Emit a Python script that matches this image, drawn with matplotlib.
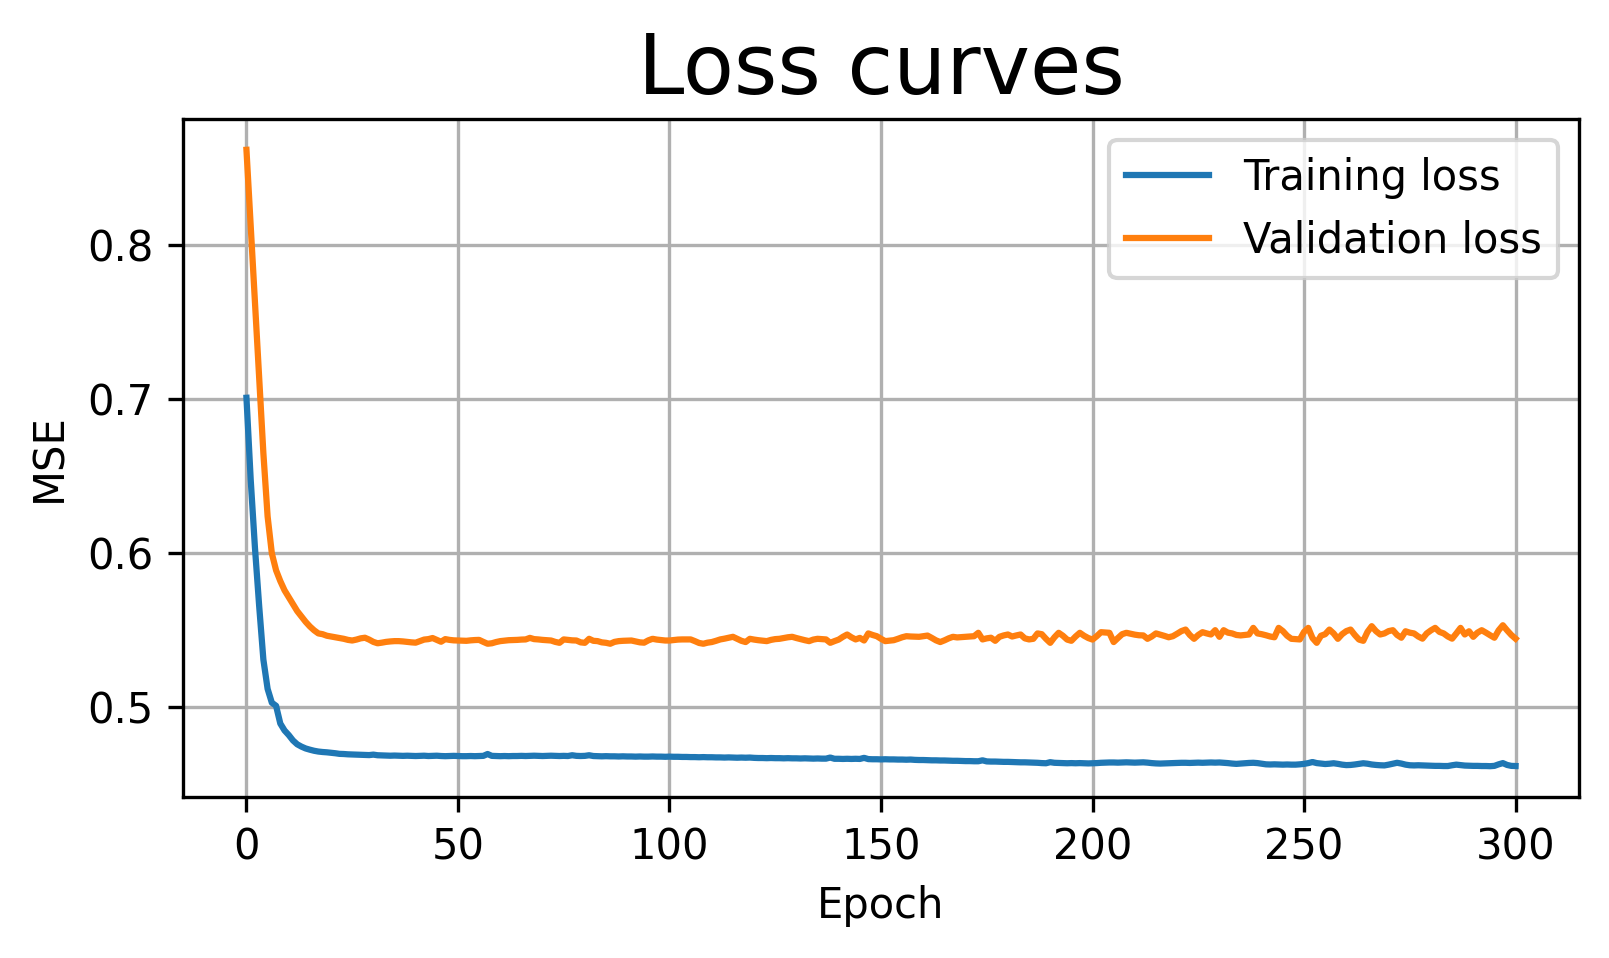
import numpy as np
import matplotlib
matplotlib.use("Agg")
import matplotlib.pyplot as plt

epochs = list(range(301))

training_loss = [
    0.7010, 0.6480, 0.6040, 0.5660, 0.5310, 0.5120, 0.5030, 0.5010, 0.4895, 0.4850,  # 0
    0.4820, 0.4785, 0.4760, 0.4745, 0.4733, 0.4725, 0.4718, 0.4713, 0.4710, 0.4708,  # 10
    0.4705, 0.4702, 0.4698, 0.4697, 0.4695, 0.4694, 0.4693, 0.4692, 0.4691, 0.4690,  # 20
    0.4693, 0.4689, 0.4688, 0.4687, 0.4686, 0.4687, 0.4686, 0.4685, 0.4686, 0.4685,  # 30
    0.4684, 0.4685, 0.4686, 0.4684, 0.4685, 0.4686, 0.4684, 0.4683, 0.4684, 0.4685,  # 40
    0.4684, 0.4683, 0.4683, 0.4684, 0.4683, 0.4684, 0.4685, 0.4697, 0.4685, 0.4684,  # 50
    0.4683, 0.4684, 0.4683, 0.4684, 0.4684, 0.4685, 0.4684, 0.4685, 0.4686, 0.4685,  # 60
    0.4684, 0.4685, 0.4686, 0.4685, 0.4684, 0.4685, 0.4684, 0.4689, 0.4685, 0.4684,  # 70
    0.4685, 0.4689, 0.4684, 0.4683, 0.4682, 0.4683, 0.4682, 0.4682, 0.4681, 0.4682,  # 80
    0.4681, 0.4681, 0.4680, 0.4681, 0.4680, 0.4680, 0.4681, 0.4680, 0.4680, 0.4679,  # 90
    0.4680, 0.4679, 0.4679, 0.4678, 0.4678, 0.4677, 0.4677, 0.4676, 0.4677, 0.4676,  # 100
    0.4676, 0.4675, 0.4675, 0.4674, 0.4675, 0.4674, 0.4673, 0.4674, 0.4673, 0.4674,  # 110
    0.4672, 0.4671, 0.4671, 0.4670, 0.4671, 0.4670, 0.4670, 0.4669, 0.4670, 0.4669,  # 120
    0.4669, 0.4668, 0.4669, 0.4668, 0.4667, 0.4668, 0.4667, 0.4667, 0.4674, 0.4666,  # 130
    0.4666, 0.4665, 0.4666, 0.4665, 0.4666, 0.4665, 0.4672, 0.4664, 0.4663, 0.4663,  # 140
    0.4662, 0.4663, 0.4662, 0.4662, 0.4661, 0.4661, 0.4660, 0.4661, 0.4659, 0.4658,  # 150
    0.4658, 0.4657, 0.4656, 0.4656, 0.4655, 0.4655, 0.4654, 0.4653, 0.4653, 0.4652,  # 160
    0.4651, 0.4651, 0.4650, 0.4650, 0.4656, 0.4649, 0.4648, 0.4648, 0.4647, 0.4646,  # 170
    0.4646, 0.4645, 0.4644, 0.4643, 0.4643, 0.4642, 0.4641, 0.4640, 0.4638, 0.4637,  # 180
    0.4644, 0.4640, 0.4639, 0.4638, 0.4637, 0.4638, 0.4637, 0.4638, 0.4637, 0.4636,  # 190
    0.4637, 0.4638, 0.4640, 0.4641, 0.4642, 0.4642, 0.4641, 0.4642, 0.4643, 0.4642,  # 200
    0.4641, 0.4642, 0.4643, 0.4641, 0.4638, 0.4636, 0.4635, 0.4636, 0.4637, 0.4638,  # 210
    0.4639, 0.4640, 0.4640, 0.4639, 0.4640, 0.4641, 0.4640, 0.4641, 0.4642, 0.4641,  # 220
    0.4642, 0.4640, 0.4638, 0.4635, 0.4633, 0.4635, 0.4637, 0.4639, 0.4640, 0.4638,  # 230
    0.4634, 0.4630, 0.4629, 0.4630, 0.4629, 0.4628, 0.4629, 0.4628, 0.4628, 0.4630,  # 240
    0.4633, 0.4638, 0.4645, 0.4638, 0.4635, 0.4632, 0.4634, 0.4637, 0.4633, 0.4628,  # 250
    0.4625, 0.4626, 0.4629, 0.4633, 0.4637, 0.4634, 0.4629, 0.4626, 0.4624, 0.4623,  # 260
    0.4628, 0.4634, 0.4640, 0.4635, 0.4628, 0.4624, 0.4623, 0.4624, 0.4623, 0.4622,  # 270
    0.4621, 0.4620, 0.4620, 0.4619, 0.4619, 0.4624, 0.4628, 0.4625, 0.4622, 0.4621,  # 280
    0.4620, 0.4620, 0.4619, 0.4619, 0.4618, 0.4620, 0.4630, 0.4638, 0.4626, 0.4620,  # 290
    0.4619,                                                                          # 300
]

validation_loss = [
    0.8620, 0.8130, 0.7650, 0.7160, 0.6650, 0.6240, 0.6000, 0.5890, 0.5820, 0.5760,  # 0
    0.5715, 0.5670, 0.5625, 0.5590, 0.5555, 0.5525, 0.5500, 0.5480, 0.5475, 0.5465,  # 10
    0.5460, 0.5455, 0.5450, 0.5445, 0.5438, 0.5434, 0.5440, 0.5448, 0.5452, 0.5440,  # 20
    0.5425, 0.5416, 0.5420, 0.5425, 0.5428, 0.5430, 0.5430, 0.5428, 0.5425, 0.5422,  # 30
    0.5420, 0.5430, 0.5440, 0.5443, 0.5450, 0.5438, 0.5426, 0.5443, 0.5438, 0.5435,  # 40
    0.5434, 0.5433, 0.5432, 0.5435, 0.5437, 0.5438, 0.5425, 0.5413, 0.5416, 0.5424,  # 50
    0.5430, 0.5433, 0.5436, 0.5437, 0.5438, 0.5440, 0.5441, 0.5451, 0.5443, 0.5441,  # 60
    0.5438, 0.5436, 0.5434, 0.5425, 0.5419, 0.5441, 0.5438, 0.5435, 0.5434, 0.5422,  # 70
    0.5419, 0.5445, 0.5432, 0.5430, 0.5422, 0.5419, 0.5413, 0.5425, 0.5430, 0.5432,  # 80
    0.5433, 0.5434, 0.5428, 0.5422, 0.5420, 0.5435, 0.5445, 0.5440, 0.5437, 0.5434,  # 90
    0.5434, 0.5437, 0.5440, 0.5441, 0.5441, 0.5441, 0.5430, 0.5418, 0.5413, 0.5420,  # 100
    0.5424, 0.5432, 0.5441, 0.5446, 0.5452, 0.5458, 0.5445, 0.5432, 0.5424, 0.5445,  # 110
    0.5440, 0.5436, 0.5433, 0.5430, 0.5438, 0.5443, 0.5445, 0.5450, 0.5455, 0.5458,  # 120
    0.5450, 0.5443, 0.5436, 0.5430, 0.5440, 0.5445, 0.5443, 0.5441, 0.5419, 0.5430,  # 130
    0.5440, 0.5458, 0.5473, 0.5455, 0.5441, 0.5451, 0.5434, 0.5480, 0.5470, 0.5462,  # 140
    0.5445, 0.5430, 0.5433, 0.5436, 0.5445, 0.5455, 0.5462, 0.5460, 0.5459, 0.5458,  # 150
    0.5462, 0.5466, 0.5451, 0.5435, 0.5424, 0.5435, 0.5448, 0.5458, 0.5454, 0.5456,  # 160
    0.5458, 0.5460, 0.5462, 0.5484, 0.5441, 0.5448, 0.5452, 0.5432, 0.5458, 0.5467,  # 170
    0.5473, 0.5460, 0.5467, 0.5473, 0.5448, 0.5441, 0.5445, 0.5480, 0.5475, 0.5445,  # 180
    0.5419, 0.5455, 0.5484, 0.5465, 0.5440, 0.5432, 0.5460, 0.5484, 0.5465, 0.5450,  # 190
    0.5440, 0.5462, 0.5488, 0.5486, 0.5484, 0.5424, 0.5450, 0.5475, 0.5484, 0.5478,  # 200
    0.5472, 0.5468, 0.5467, 0.5445, 0.5460, 0.5480, 0.5472, 0.5464, 0.5455, 0.5462,  # 210
    0.5478, 0.5495, 0.5505, 0.5470, 0.5445, 0.5470, 0.5488, 0.5480, 0.5473, 0.5501,  # 220
    0.5458, 0.5501, 0.5485, 0.5480, 0.5470, 0.5467, 0.5470, 0.5473, 0.5516, 0.5480,  # 230
    0.5475, 0.5468, 0.5460, 0.5455, 0.5516, 0.5495, 0.5465, 0.5445, 0.5443, 0.5441,  # 240
    0.5490, 0.5516, 0.5450, 0.5419, 0.5465, 0.5475, 0.5505, 0.5480, 0.5445, 0.5475,  # 250
    0.5495, 0.5505, 0.5470, 0.5440, 0.5432, 0.5490, 0.5527, 0.5495, 0.5473, 0.5480,  # 260
    0.5495, 0.5501, 0.5470, 0.5452, 0.5494, 0.5485, 0.5480, 0.5460, 0.5446, 0.5480,  # 270
    0.5500, 0.5516, 0.5490, 0.5480, 0.5460, 0.5446, 0.5480, 0.5516, 0.5473, 0.5494,  # 280
    0.5458, 0.5485, 0.5501, 0.5485, 0.5468, 0.5452, 0.5500, 0.5533, 0.5500, 0.5470,  # 290
    0.5446,                                                                          # 300
]

fig = plt.figure(figsize=(1609 / 300, 958 / 300), dpi=300)
ax = fig.add_axes([183 / 1609, 1 - 797 / 958, (1579 - 183) / 1609, (797 - 119) / 958])
ax.plot(epochs, training_loss, label="Training loss")
ax.plot(epochs, validation_loss, label="Validation loss")
ax.set_title("Loss curves", fontsize=20)
ax.set_xlabel("Epoch")
ax.set_ylabel("MSE")
ax.grid(True)
ax.legend(loc="upper right")
fig.savefig("out.png", dpi=300)
